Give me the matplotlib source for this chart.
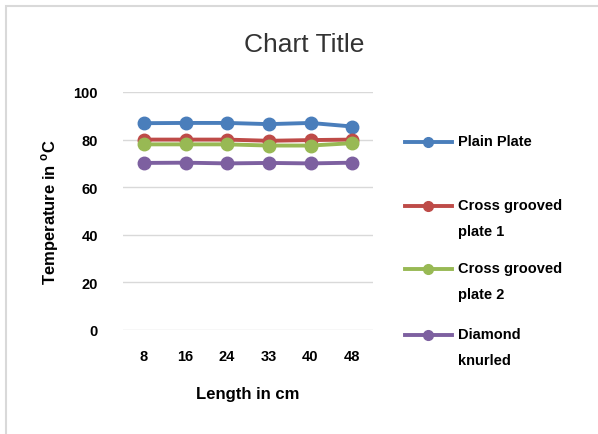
import matplotlib
matplotlib.use('Agg')
import matplotlib.pyplot as plt
from matplotlib.lines import Line2D
from matplotlib.patches import Rectangle

# data
lengths = ['8', '16', '24', '33', '40', '48']
plain_plate = [86.9, 87.0, 87.0, 86.5, 87.0, 85.5]
cross_grooved_1 = [80.0, 80.0, 80.0, 79.5, 79.8, 80.0]
cross_grooved_2 = [78.0, 78.0, 78.0, 77.5, 77.5, 78.5]
diamond_knurled = [70.2, 70.3, 70.0, 70.2, 70.0, 70.3]

series = [
    ('Plain Plate', plain_plate, '#4a7ebb'),
    ('Cross grooved\nplate 1', cross_grooved_1, '#be4b48'),
    ('Cross grooved\nplate 2', cross_grooved_2, '#98b954'),
    ('Diamond\nknurled', diamond_knurled, '#7d60a0'),
]

plt.rcParams['font.family'] = ['Liberation Sans', 'DejaVu Sans']

W, H = 598, 435
fig = plt.figure(figsize=(W / 100, H / 100), dpi=100)
ax = fig.add_axes([123 / W, 1 - 331 / H, 250 / W, 238 / H])

x = list(range(len(lengths)))
for name, vals, color in series:
    ax.plot(x, vals, color=color, lw=2.8, marker='o', ms=9, zorder=3)

ax.set_xlim(-0.5, len(lengths) - 0.5)
ax.set_ylim(0, 100)
ax.set_yticks(range(0, 101, 20))
ax.set_xticks(x)
ax.set_xticklabels(lengths)
ax.grid(axis='y', color='#d9d9d9', lw=1)
ax.set_axisbelow(True)
for s in ax.spines.values():
    s.set_visible(False)
ax.tick_params(length=0, labelsize=10.5)
for lbl in ax.get_xticklabels() + ax.get_yticklabels():
    lbl.set_fontweight('bold')
ax.tick_params(axis='x', pad=14)
ax.tick_params(axis='y', pad=18)

ax.set_xlabel('Length in cm', fontsize=12, fontweight='bold', labelpad=16)
ax.set_ylabel(r'Temperature in $^{\mathregular{o}}$C', fontsize=12,
              fontweight='bold', labelpad=9)

fig.text(304 / W, 1 - 45 / H, 'Chart Title', fontsize=19, ha='center',
         va='center', color='#333333')

# legend drawn on the right
legend_y = [143, 207, 270, 336]
for (name, vals, color), y in zip(series, legend_y):
    yf = 1 - y / H
    fig.add_artist(Line2D([405 / W, 452 / W], [yf, yf], color=color, lw=2.8,
                          transform=fig.transFigure))
    fig.add_artist(Line2D([428 / W], [yf], color=color, marker='o', ms=7,
                          transform=fig.transFigure))
    fig.text(458 / W, yf + 8 / H, name, fontsize=10.5, fontweight='bold',
             va='top', ha='left', linespacing=2.1)

fig.add_artist(Rectangle((6 / W, -0.1), 1.1, 1 - 7 / H + 0.1,
                         transform=fig.transFigure, fill=False,
                         edgecolor='#d9d9d9', lw=1.5))

fig.savefig('out.png', dpi=100)
